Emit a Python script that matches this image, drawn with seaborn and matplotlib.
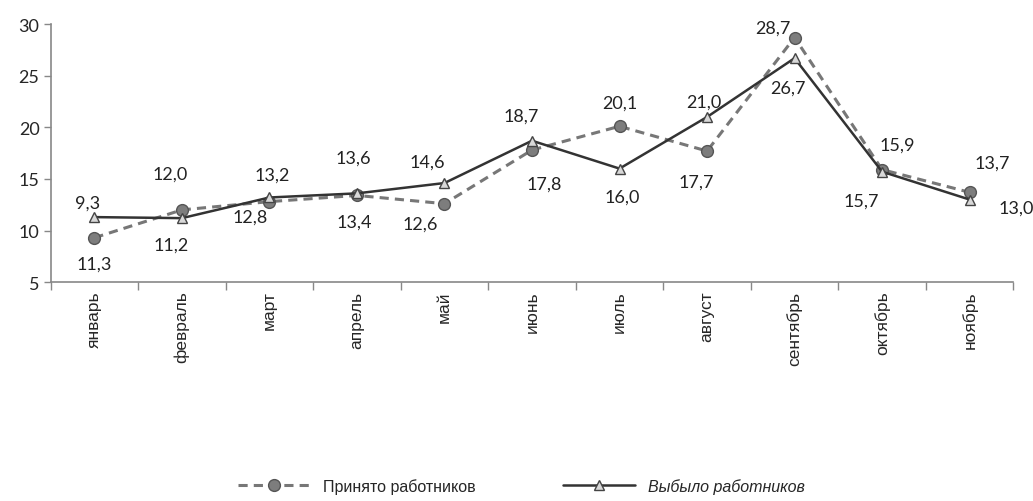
import matplotlib
matplotlib.use("Agg")
import matplotlib.pyplot as plt
import seaborn as sns
import pandas as pd
from matplotlib.ticker import FixedLocator

months = ["январь", "февраль", "март", "апрель", "май", "июнь",
          "июль", "август", "сентябрь", "октябрь", "ноябрь"]
hired = [9.3, 12.0, 12.8, 13.4, 12.6, 17.8, 20.1, 17.7, 28.7, 15.9, 13.7]
left = [11.3, 11.2, 13.2, 13.6, 14.6, 18.7, 16.0, 21.0, 26.7, 15.7, 13.0]

# label offsets (pixels) to mimic the original placement
hired_off = [(-7, 35), (-12, 36), (-19, -15), (-3, -26), (-24, -20), (12, -34),
             (0, 24), (-11, -31), (-22, 10), (15, 25), (23, 30)]
left_off = [(0, -47), (-11, -26), (3, 23), (-4, 36), (-17, 21), (-11, 25),
            (3, -28), (-3, 15), (-7, -29), (-21, -29), (47, -8)]

df = pd.DataFrame({"month": months, "hired": hired, "left": left})

sns.set_theme(style="white")
plt.rcParams["font.family"] = ["Lato", "DejaVu Sans"]

fig = plt.figure(figsize=(10.33, 5.02), dpi=100)
ax = fig.add_axes([0.049, 0.436, 0.932, 0.514])

sns.lineplot(data=df, x="month", y="hired", ax=ax, sort=False,
             color="#777777", linewidth=2.2, linestyle=(0, (3, 2)),
             marker="o", markersize=8.5, markerfacecolor="#7d7d7d",
             markeredgecolor="#555555", markeredgewidth=1,
             label="Принято работников")
sns.lineplot(data=df, x="month", y="left", ax=ax, sort=False,
             color="#333333", linewidth=1.8,
             marker="^", markersize=7.5, markerfacecolor="#d8d8d8",
             markeredgecolor="#444444", markeredgewidth=1,
             label="Выбыло работников")

for i, v in enumerate(hired):
    ax.annotate(f"{v:.1f}".replace(".", ","), (i, v), xytext=hired_off[i],
                textcoords="offset pixels", ha="center", va="center",
                fontsize=13, color="#222222")
for i, v in enumerate(left):
    ax.annotate(f"{v:.1f}".replace(".", ","), (i, v), xytext=left_off[i],
                textcoords="offset pixels", ha="center", va="center",
                fontsize=13, color="#222222")

ax.set_xlim(-0.5, len(months) - 0.5)
ax.set_ylim(5, 30)
ax.set_yticks([5, 10, 15, 20, 25, 30])
ax.set_xlabel("")
ax.set_ylabel("")

ax.set_xticks(range(len(months)))
ax.set_xticklabels(months, rotation=90, fontsize=12.5, va="top",
                   family=["Liberation Sans", "DejaVu Sans"])
ax.tick_params(axis="x", which="major", length=0, pad=6)
ax.xaxis.set_minor_locator(FixedLocator([i - 0.5 for i in range(len(months) + 1)]))
ax.tick_params(axis="x", which="minor", length=6, width=1, color="#888888",
               direction="out", bottom=True)
ax.tick_params(axis="y", length=5, width=1, color="#888888", direction="out",
               left=True, labelsize=13, pad=3)

for s in ["top", "right"]:
    ax.spines[s].set_visible(False)
for s in ["left", "bottom"]:
    ax.spines[s].set_color("#888888")
    ax.spines[s].set_linewidth(1.2)

ax.get_legend().remove()
handles, labels = ax.get_legend_handles_labels()
leg = fig.legend(handles, labels, loc="center", bbox_to_anchor=(0.505, 0.03),
                 ncol=2, frameon=False, handlelength=4.5, columnspacing=5.5,
                 prop={"family": ["Liberation Sans Narrow", "Liberation Sans", "DejaVu Sans"],
                       "size": 11.5})
leg.get_texts()[1].set_fontstyle("italic")

fig.savefig("out.png", dpi=100)
